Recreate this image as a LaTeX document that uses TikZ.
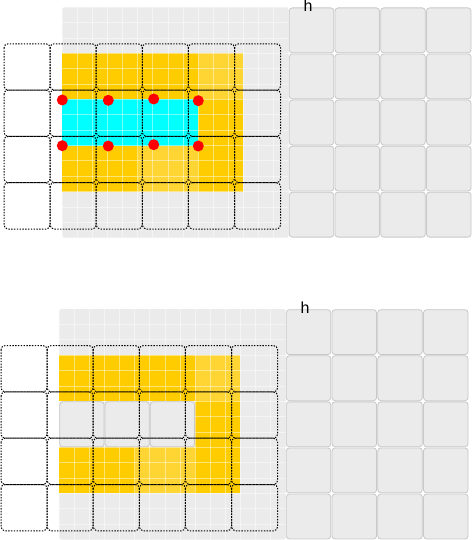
\documentclass[tikz,border=0pt]{standalone}
\usepackage{fontspec}
\setmainfont{Liberation Sans}
\definecolor{finegray}{HTML}{EBEBEB}
\definecolor{cellborder}{HTML}{C8C8C8}
\definecolor{ydark}{HTML}{FFCC00}
\definecolor{ylight}{HTML}{FFD533}
\definecolor{cyanfill}{HTML}{00FFFF}
\tikzset{
  bigcell/.style={fill=finegray, draw=cellborder, line width=0.8pt, rounded corners=3pt},
  dotbox/.style={draw=black, line width=1pt, dash pattern=on 1.4pt off 1.4pt, rounded corners=4pt},
  gridline/.style={draw=white, draw opacity=0.45, line width=0.8pt},
  reddot/.style={fill=red},
  lbl/.style={font=\fontsize{16}{19}\selectfont, inner sep=0pt, anchor=base}
}
\begin{document}
\begin{tikzpicture}[x=1pt,y=-1pt]
\useasboundingbox (0,0) rectangle (473,540);
\fill[white] (0,0) rectangle (473,540);
\foreach \dx/\dy/\kind in {0/0/1, -3/301.8/2}{
\begin{scope}[shift={(\dx,\dy)}]
  % fine grid background
  \fill[finegray, rounded corners=2pt] (62.3,7.3) rectangle (288.65,237.7);
  % yellow bands
  \fill[ydark]  (62.3,53.38)   rectangle (198.11,99.46);
  \fill[ylight] (198.11,53.38) rectangle (243.38,99.46);
  \fill[ydark]  (198.11,99.46) rectangle (243.38,145.54);
  \fill[ydark]  (62.3,145.54)  rectangle (137.75,191.62);
  \fill[ylight] (137.75,145.54) rectangle (198.11,191.62);
  \fill[ydark]  (198.11,145.54) rectangle (243.38,191.62);
  \ifnum\kind=1
    \fill[cyanfill] (62.3,99.46) rectangle (198.11,145.54);
  \fi
  % fine grid lines
  \foreach \i in {1,...,14}{
    \draw[gridline] ({62.3+15.09*\i},7.3) -- ++(0,230.4);
    \draw[gridline] (62.3,{7.3+15.36*\i}) -- ++(226.35,0);
  }
  \ifnum\kind=2
    \foreach \k in {0,1,2}{
      \draw[bigcell] ({62.3+45.27*\k+0.5},99.96) rectangle ({62.3+45.27*(\k+1)-0.5},145.04);
    }
  \fi
  % right big cells
  \foreach \i in {0,...,3}{
    \foreach \j in {0,...,4}{
      \draw[bigcell] ({288.7+45.75*\i+0.6},{7.3+46.08*\j+0.6}) rectangle ++(44.5,44.9);
    }
  }
  % dotted boxes
  \foreach \i in {0,...,5}{
    \foreach \j in {0,...,3}{
      \draw[dotbox] ({4+46.1*\i},{43.8+46.3*\j}) rectangle ++(46.1,46.3);
    }
  }
  \ifnum\kind=1
    \foreach \px/\py in {62.3/100, 108.3/100.3, 153.7/99, 198.3/100.7,
                         62.3/145.7, 108.3/146, 153.7/144.7, 198.3/146}{
      \fill[reddot] (\px,\py) circle (5.5);
    }
  \fi
  \node[lbl] (h\kind) at (308,11.7) {h};
\end{scope}
}
\end{tikzpicture}
\end{document}
